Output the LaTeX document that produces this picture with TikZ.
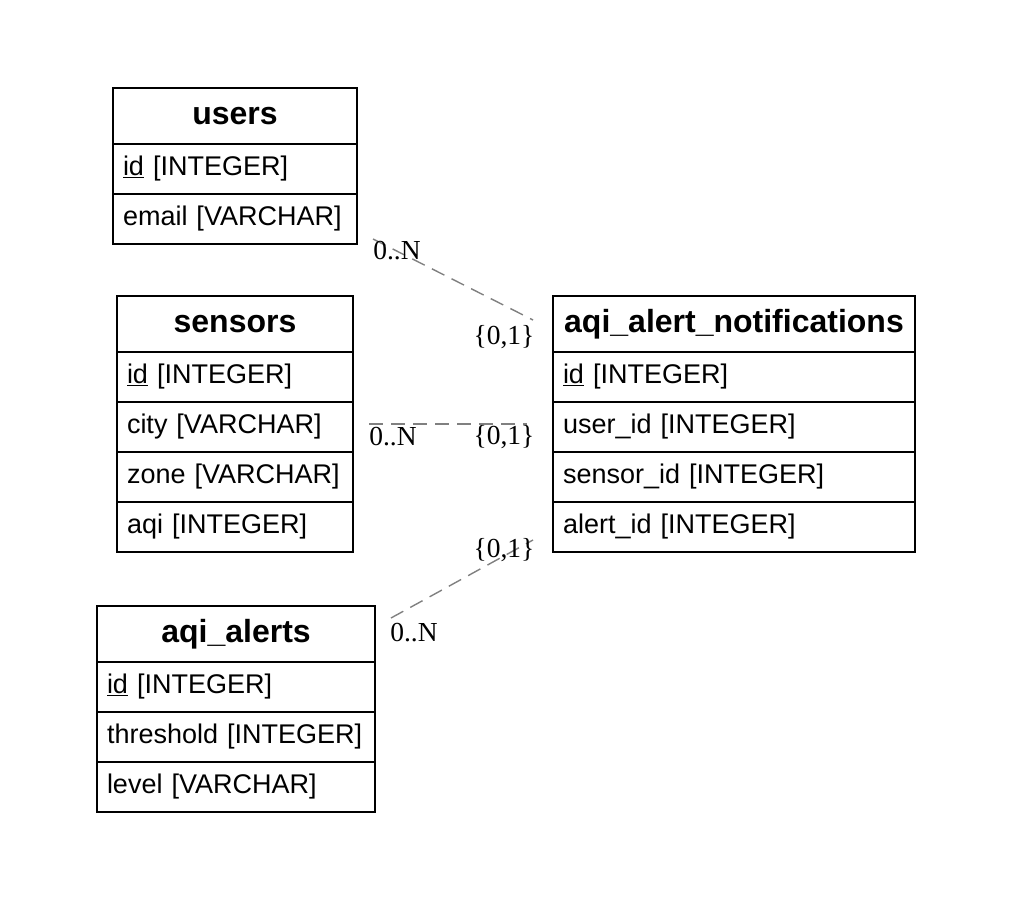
\documentclass[tikz,border=0pt]{standalone}
\usepackage{fontspec}
\setmainfont{Liberation Sans}
\newfontfamily\cardfont{Liberation Serif}
\usetikzlibrary{calc}
\begin{document}
\begin{tikzpicture}[x=1pt,y=-1pt,
  tbl/.style={draw, line width=1.4pt, anchor=north west, outer sep=0pt, inner ysep=0pt},
  hdr/.style={tbl, minimum height=56pt, inner xsep=0pt, align=center,
    font=\fontsize{32}{36}\selectfont\bfseries},
  fld/.style={tbl, minimum height=50pt, inner xsep=10pt, align=left,
    font=\fontsize{27}{32}\selectfont},
  rel/.style={draw=black!50, line width=1.4pt, dash pattern=on 14pt off 8pt},
  card/.style={font=\cardfont\fontsize{27.5}{32}\selectfont, inner sep=0pt}]
\useasboundingbox (0,0) rectangle (1010,900);

% users
\node[hdr, minimum width=244pt] (users) at (113,88) {users};
\node[fld, text width=224pt] (users-1) at (users.south west) {\mbox{\underline{id} [INTEGER]}};
\node[fld, text width=224pt] (users-2) at (users-1.south west) {\mbox{email [VARCHAR]}};

% sensors
\node[hdr, minimum width=236pt] (sensors) at (117,296) {sensors};
\node[fld, text width=216pt] (sensors-1) at (sensors.south west) {\mbox{\underline{id} [INTEGER]}};
\node[fld, text width=216pt] (sensors-2) at (sensors-1.south west) {\mbox{city [VARCHAR]}};
\node[fld, text width=216pt] (sensors-3) at (sensors-2.south west) {\mbox{zone [VARCHAR]}};
\node[fld, text width=216pt] (sensors-4) at (sensors-3.south west) {\mbox{aqi [INTEGER]}};

% aqi_alerts
\node[hdr, minimum width=278pt] (alerts) at (97,606) {aqi\_alerts};
\node[fld, text width=258pt] (alerts-1) at (alerts.south west) {\mbox{\underline{id} [INTEGER]}};
\node[fld, text width=258pt] (alerts-2) at (alerts-1.south west) {\mbox{threshold [INTEGER]}};
\node[fld, text width=258pt] (alerts-3) at (alerts-2.south west) {\mbox{level [VARCHAR]}};

% aqi_alert_notifications
\node[hdr, minimum width=362pt] (aqn) at (553,296) {aqi\_alert\_notifications};
\node[fld, text width=342pt] (aqn-1) at (aqn.south west) {\mbox{\underline{id} [INTEGER]}};
\node[fld, text width=342pt] (aqn-2) at (aqn-1.south west) {\mbox{user\_id [INTEGER]}};
\node[fld, text width=342pt] (aqn-3) at (aqn-2.south west) {\mbox{sensor\_id [INTEGER]}};
\node[fld, text width=342pt] (aqn-4) at (aqn-3.south west) {\mbox{alert\_id [INTEGER]}};

% connector ends
\coordinate (r1a) at ($(users-2.south east)+(16,-5)$);
\coordinate (r1b) at ($(aqn.north west)+(-20,24)$);
\coordinate (r2a) at ($(sensors-2.east)+(16,-3)$);
\coordinate (r2b) at ($(aqn-2.west)+(-26,-3)$);
\coordinate (r3a) at ($(alerts.north east)+(16,12)$);
\coordinate (r3b) at ($(aqn-4.south west)+(-20,-12)$);

\draw[rel] (r1a) -- (r1b);
\draw[rel] (r2a) -- (r2b);
\draw[rel] (r3a) -- (r3b);

% cardinalities
\node[card] (c1a) at (397,251) {0..N};
\node[card] (c1b) at (504,337) {\{0,1\}};
\node[card] (c2a) at (393,437) {0..N};
\node[card] (c2b) at (504,437) {\{0,1\}};
\node[card] (c3a) at (414,633) {0..N};
\node[card] (c3b) at (504,550) {\{0,1\}};
\end{tikzpicture}
\end{document}
